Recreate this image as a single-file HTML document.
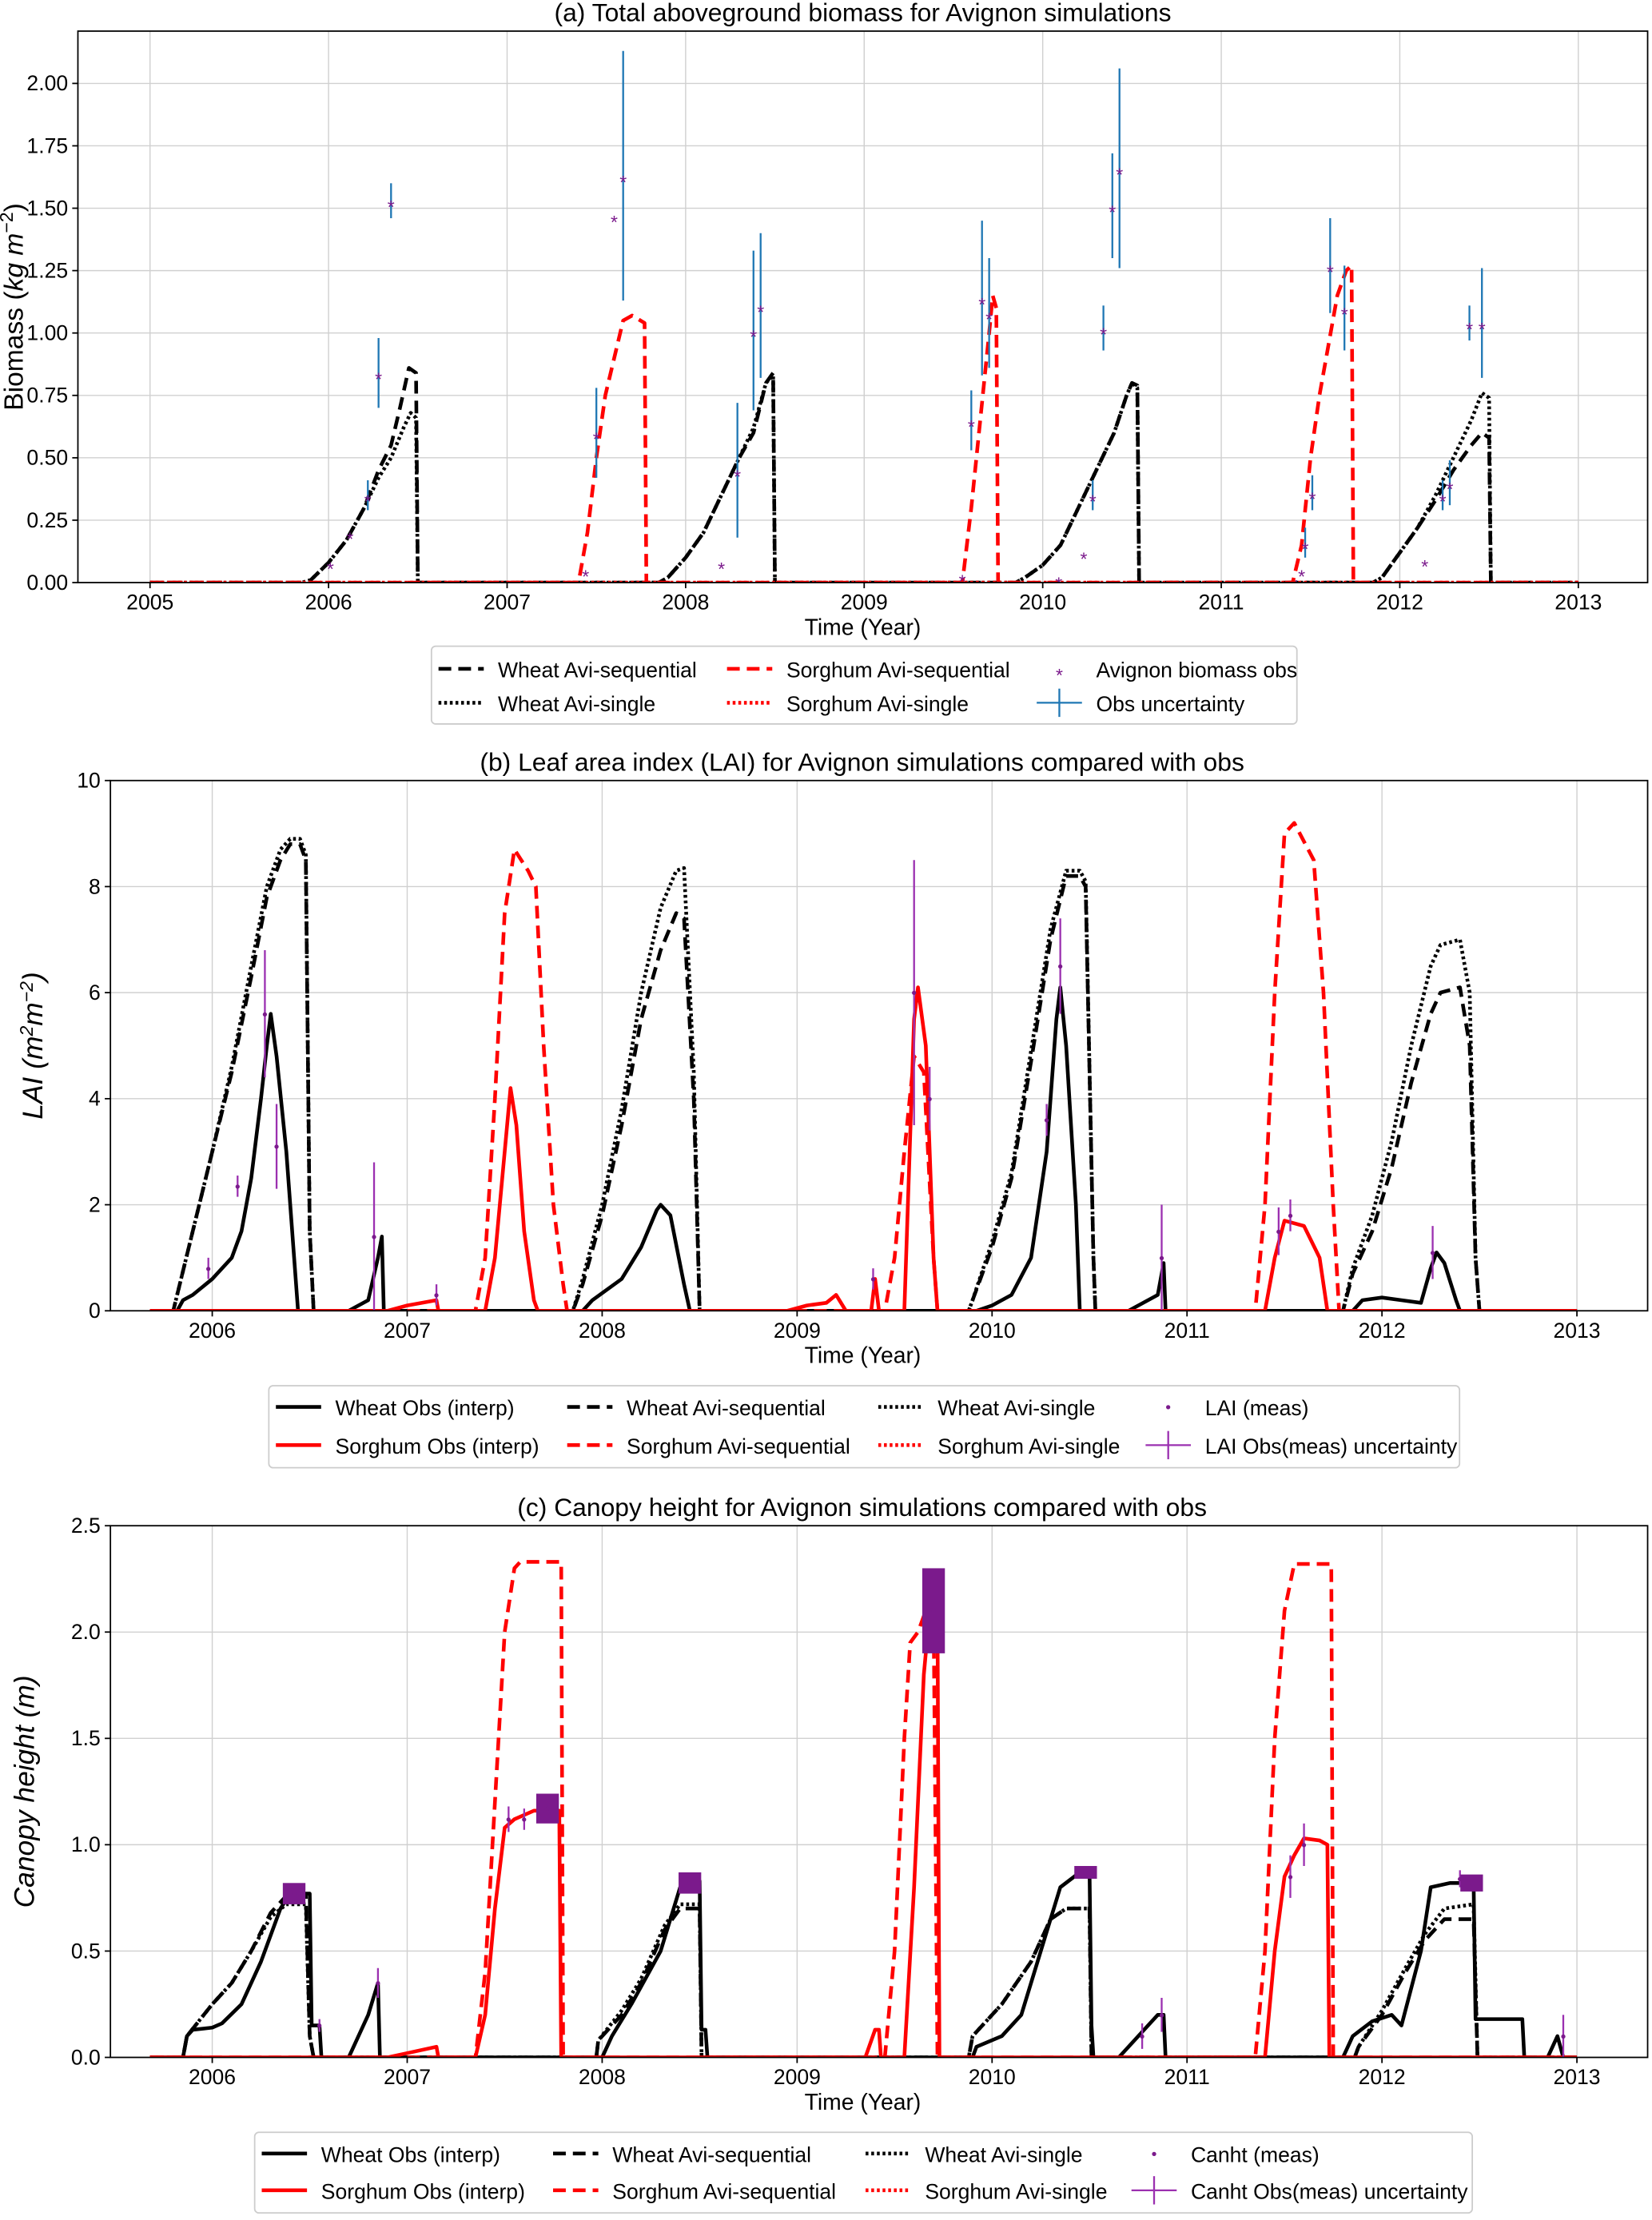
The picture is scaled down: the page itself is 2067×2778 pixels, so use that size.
<!DOCTYPE html>
<html><head><meta charset="utf-8"><title>Avignon simulations</title>
<style>html,body{margin:0;padding:0;background:#fff}svg{display:block}text{font-family:"Liberation Sans","DejaVu Sans",sans-serif}</style>
</head><body>
<svg id="fig" xmlns="http://www.w3.org/2000/svg" width="2067" height="2778" viewBox="0 0 1168 1570"></svg>
<script>
// ===== Panel (a) data: biomass (kg m-2) =====
const aWheatSeq=[[2005,0],[2005.85,0],[2005.9,0.01],[2006,0.08],[2006.1,0.17],[2006.2,0.3],[2006.28,0.45],[2006.35,0.55],[2006.4,0.7],[2006.45,0.86],[2006.49,0.84],[2006.5,0],[2007.85,0],[2007.9,0.02],[2008,0.1],[2008.1,0.2],[2008.2,0.35],[2008.3,0.5],[2008.38,0.6],[2008.45,0.8],[2008.49,0.84],[2008.5,0],[2009.85,0],[2009.9,0.02],[2010,0.07],[2010.1,0.15],[2010.2,0.3],[2010.3,0.45],[2010.4,0.6],[2010.47,0.75],[2010.5,0.8],[2010.53,0.79],[2010.54,0],[2011.85,0],[2011.9,0.02],[2012,0.12],[2012.1,0.22],[2012.2,0.33],[2012.3,0.45],[2012.4,0.55],[2012.46,0.6],[2012.5,0.58],[2012.51,0],[2013,0]];
const aWheatSingle=[[2005,0],[2005.85,0],[2005.9,0.01],[2006,0.08],[2006.1,0.17],[2006.2,0.3],[2006.28,0.42],[2006.35,0.5],[2006.42,0.62],[2006.46,0.68],[2006.49,0.66],[2006.5,0],[2007.85,0],[2007.9,0.02],[2008,0.1],[2008.1,0.2],[2008.2,0.35],[2008.3,0.5],[2008.38,0.62],[2008.45,0.8],[2008.49,0.83],[2008.5,0],[2009.85,0],[2009.9,0.02],[2010,0.07],[2010.1,0.15],[2010.2,0.3],[2010.3,0.45],[2010.4,0.6],[2010.47,0.75],[2010.5,0.8],[2010.53,0.78],[2010.54,0],[2011.85,0],[2011.9,0.02],[2012,0.12],[2012.1,0.22],[2012.2,0.35],[2012.3,0.5],[2012.4,0.65],[2012.46,0.76],[2012.5,0.74],[2012.51,0],[2013,0]];
const aSorgSeq=[[2005,0],[2007.4,0],[2007.45,0.2],[2007.5,0.5],[2007.55,0.75],[2007.6,0.9],[2007.65,1.05],[2007.7,1.07],[2007.77,1.04],[2007.78,0],[2009.55,0],[2009.6,0.3],[2009.65,0.65],[2009.7,1.0],[2009.72,1.15],[2009.74,1.1],[2009.75,0],[2011.4,0],[2011.45,0.15],[2011.5,0.5],[2011.55,0.75],[2011.6,0.95],[2011.65,1.15],[2011.7,1.25],[2011.73,1.27],[2011.74,0],[2013,0]];
const aSorgSingle=[[2005,0],[2013,0]];
const aObsT=[2006.01,2006.12,2006.22,2006.28,2006.35,2007.44,2007.5,2007.6,2007.65,2008.2,2008.29,2008.38,2008.42,2009.55,2009.6,2009.66,2009.7,2010.09,2010.23,2010.28,2010.34,2010.39,2010.43,2011.42,2011.45,2011.47,2011.51,2011.61,2011.69,2012.14,2012.24,2012.28,2012.39,2012.46];
const aObsV=[0.08,0.2,0.35,0.84,1.53,0.05,0.6,1.47,1.63,0.08,0.45,1.01,1.11,0.03,0.65,1.14,1.08,0.02,0.12,0.35,1.02,1.51,1.66,0.01,0.05,0.16,0.36,1.27,1.1,0.09,0.35,0.4,1.04,1.04];
const aObsErr=[0,0,0.06,0.14,0.07,0,0.18,0,0.5,0,0.27,0.32,0.29,0,0.12,0.31,0.22,0,0,0.06,0.09,0.21,0.4,0,0,0.06,0.07,0.19,0.17,0,0.06,0.09,0.07,0.22];
const aYTicks=[0,0.25,0.5,0.75,1.0,1.25,1.5,1.75,2.0];
const aXTicks=[2005,2006,2007,2008,2009,2010,2011,2012,2013];

// ===== Panel (b) data: LAI =====
const bWheatObs=[[2005.68,0],[2005.82,0],[2005.85,0.2],[2005.9,0.3],[2006,0.6],[2006.1,1.0],[2006.15,1.5],[2006.2,2.5],[2006.25,4.0],[2006.28,5.0],[2006.3,5.6],[2006.33,4.8],[2006.38,3.0],[2006.42,1.0],[2006.44,0],[2006.7,0],[2006.8,0.2],[2006.85,1.0],[2006.87,1.4],[2006.88,0],[2007.9,0],[2007.95,0.2],[2008.1,0.6],[2008.2,1.2],[2008.28,1.9],[2008.3,2.0],[2008.35,1.8],[2008.42,0.5],[2008.45,0],[2009.92,0],[2010,0.1],[2010.1,0.3],[2010.2,1.0],[2010.28,3.0],[2010.33,5.5],[2010.35,6.1],[2010.38,5.0],[2010.43,2.0],[2010.45,0],[2010.7,0],[2010.85,0.3],[2010.88,0.9],[2010.89,0],[2011.85,0],[2011.9,0.2],[2012,0.25],[2012.1,0.2],[2012.2,0.15],[2012.25,0.8],[2012.28,1.1],[2012.32,0.9],[2012.38,0.2],[2012.4,0],[2013,0]];
const bWheatSeq=[[2005.68,0],[2005.8,0],[2005.82,0.3],[2005.9,1.5],[2006,3.0],[2006.1,4.5],[2006.2,6.3],[2006.28,7.8],[2006.35,8.5],[2006.4,8.8],[2006.45,8.8],[2006.48,8.5],[2006.5,1.5],[2006.52,0],[2007.85,0],[2007.9,0.5],[2008,1.8],[2008.1,3.5],[2008.2,5.5],[2008.3,6.8],[2008.38,7.5],[2008.42,7.4],[2008.47,4.0],[2008.5,0],[2009.88,0],[2009.9,0.2],[2010,1.2],[2010.1,2.5],[2010.2,4.7],[2010.3,7.0],[2010.38,8.2],[2010.45,8.2],[2010.48,8.0],[2010.52,1.0],[2010.53,0],[2011.8,0],[2011.85,0.7],[2011.95,1.5],[2012.05,2.7],[2012.15,4.3],[2012.25,5.6],[2012.3,6.0],[2012.4,6.1],[2012.45,5.0],[2012.48,1.0],[2012.5,0],[2013,0]];
const bWheatSingle=[[2005.68,0],[2005.8,0],[2005.82,0.3],[2005.9,1.5],[2006,3.0],[2006.1,4.6],[2006.2,6.5],[2006.28,8.0],[2006.35,8.7],[2006.4,8.9],[2006.45,8.9],[2006.48,8.6],[2006.5,1.5],[2006.52,0],[2007.85,0],[2007.9,0.6],[2008,2.0],[2008.1,3.8],[2008.2,6.0],[2008.3,7.6],[2008.38,8.3],[2008.42,8.35],[2008.47,4.5],[2008.5,0],[2009.88,0],[2009.9,0.2],[2010,1.3],[2010.1,2.6],[2010.2,4.9],[2010.3,7.2],[2010.38,8.3],[2010.45,8.3],[2010.48,8.1],[2010.52,1.0],[2010.53,0],[2011.8,0],[2011.85,0.8],[2011.95,1.8],[2012.05,3.2],[2012.15,5.0],[2012.25,6.5],[2012.3,6.9],[2012.4,7.0],[2012.45,6.0],[2012.48,1.0],[2012.5,0],[2013,0]];
const bSorgObs=[[2005.68,0],[2006.9,0],[2007,0.1],[2007.15,0.2],[2007.16,0],[2007.4,0],[2007.45,1.0],[2007.5,3.0],[2007.53,4.2],[2007.56,3.5],[2007.6,1.5],[2007.65,0.2],[2007.67,0],[2008.95,0],[2009.05,0.1],[2009.15,0.15],[2009.2,0.3],[2009.25,0],[2009.38,0],[2009.4,0.6],[2009.42,0],[2009.55,0],[2009.6,5.5],[2009.62,6.1],[2009.66,5.0],[2009.7,1.0],[2009.72,0],[2011.4,0],[2011.45,1.0],[2011.5,1.7],[2011.6,1.6],[2011.68,1.0],[2011.72,0],[2013,0]];
const bSorgSeq=[[2005.68,0],[2007.35,0],[2007.4,1.0],[2007.45,4.0],[2007.5,7.5],[2007.55,8.7],[2007.62,8.3],[2007.66,8.0],[2007.7,5.0],[2007.75,2.0],[2007.8,0.5],[2007.82,0],[2009.45,0],[2009.5,1.0],[2009.55,3.0],[2009.6,4.8],[2009.65,4.5],[2009.7,1.0],[2009.72,0],[2011.35,0],[2011.4,2.0],[2011.45,6.0],[2011.5,9.0],[2011.55,9.2],[2011.65,8.5],[2011.7,6.0],[2011.75,2.0],[2011.78,0],[2013,0]];
const bObsT=[2005.98,2006.13,2006.27,2006.33,2006.83,2007.15,2009.39,2009.6,2009.68,2010.28,2010.35,2010.87,2011.47,2011.53,2012.26];
const bObsV=[0.8,2.35,5.6,3.1,1.4,0.3,0.6,6.0,4.0,3.6,6.5,1.0,1.5,1.8,1.1];
const bObsErr=[0.2,0.2,1.2,0.8,1.4,0.2,0.2,2.5,0.6,0.3,0.9,1.0,0.45,0.3,0.5];
const bYTicks=[0,2,4,6,8,10];
const bcXTicks=[2006,2007,2008,2009,2010,2011,2012,2013];

// ===== Panel (c) data: canopy height (m) =====
const cWheatObs=[[2005.68,0],[2005.85,0],[2005.87,0.1],[2005.9,0.13],[2006,0.14],[2006.05,0.16],[2006.15,0.25],[2006.25,0.45],[2006.35,0.7],[2006.4,0.77],[2006.5,0.77],[2006.51,0.15],[2006.55,0.15],[2006.56,0],[2006.7,0],[2006.8,0.2],[2006.85,0.35],[2006.86,0],[2008,0],[2008.05,0.1],[2008.15,0.25],[2008.3,0.5],[2008.4,0.8],[2008.48,0.83],[2008.5,0.83],[2008.51,0.13],[2008.53,0.13],[2008.54,0],[2009.9,0],[2009.92,0.05],[2010.05,0.1],[2010.15,0.2],[2010.25,0.5],[2010.35,0.8],[2010.45,0.87],[2010.5,0.87],[2010.51,0.15],[2010.52,0],[2010.65,0],[2010.75,0.1],[2010.85,0.2],[2010.88,0.2],[2010.89,0],[2011.8,0],[2011.85,0.1],[2011.95,0.17],[2012.05,0.2],[2012.1,0.15],[2012.2,0.5],[2012.25,0.8],[2012.35,0.82],[2012.47,0.82],[2012.48,0.18],[2012.72,0.18],[2012.73,0],[2012.85,0],[2012.9,0.1],[2012.93,0],[2013,0]];
const cWheatSeq=[[2005.68,0],[2005.85,0],[2005.87,0.1],[2006,0.25],[2006.1,0.35],[2006.2,0.5],[2006.3,0.68],[2006.38,0.76],[2006.48,0.76],[2006.5,0.1],[2006.52,0],[2007.97,0],[2007.98,0.08],[2008.1,0.2],[2008.2,0.35],[2008.32,0.6],[2008.4,0.7],[2008.5,0.7],[2008.51,0],[2009.88,0],[2009.9,0.1],[2010.05,0.25],[2010.2,0.45],[2010.3,0.65],[2010.38,0.7],[2010.5,0.7],[2010.51,0],[2011.86,0],[2011.88,0.05],[2012,0.2],[2012.12,0.4],[2012.22,0.55],[2012.32,0.65],[2012.47,0.65],[2012.49,0],[2013,0]];
const cWheatSingle=[[2005.68,0],[2005.85,0],[2005.87,0.1],[2006,0.25],[2006.1,0.35],[2006.2,0.5],[2006.3,0.66],[2006.38,0.72],[2006.48,0.72],[2006.5,0.1],[2006.52,0],[2007.97,0],[2007.98,0.08],[2008.1,0.22],[2008.2,0.37],[2008.32,0.62],[2008.4,0.72],[2008.5,0.72],[2008.51,0],[2009.88,0],[2009.9,0.1],[2010.05,0.25],[2010.2,0.45],[2010.3,0.65],[2010.38,0.7],[2010.5,0.7],[2010.51,0],[2011.86,0],[2011.88,0.05],[2012,0.22],[2012.12,0.42],[2012.22,0.58],[2012.32,0.7],[2012.47,0.72],[2012.49,0],[2013,0]];
const cSorgObs=[[2005.68,0],[2006.9,0],[2007,0.02],[2007.15,0.05],[2007.16,0],[2007.35,0],[2007.4,0.2],[2007.45,0.7],[2007.5,1.08],[2007.55,1.12],[2007.65,1.16],[2007.78,1.16],[2007.79,0],[2009.35,0],[2009.4,0.13],[2009.42,0.13],[2009.43,0],[2009.55,0],[2009.6,0.8],[2009.65,1.8],[2009.68,2.1],[2009.72,2.1],[2009.73,0],[2011.4,0],[2011.45,0.5],[2011.5,0.85],[2011.55,0.95],[2011.6,1.03],[2011.68,1.02],[2011.72,1.0],[2011.73,0],[2013,0]];
const cSorgSeq=[[2005.68,0],[2007.35,0],[2007.4,0.4],[2007.45,1.2],[2007.5,2.0],[2007.55,2.3],[2007.58,2.33],[2007.79,2.33],[2007.8,0],[2009.45,0],[2009.5,0.5],[2009.55,1.5],[2009.58,1.95],[2009.62,2.0],[2009.66,2.1],[2009.7,2.1],[2009.72,0],[2011.35,0],[2011.4,0.5],[2011.45,1.5],[2011.5,2.1],[2011.55,2.32],[2011.74,2.32],[2011.75,0],[2013,0]];
const cObsT=[2006.42,2006.55,2006.85,2007.52,2007.6,2007.72,2008.45,2009.7,2010.48,2010.77,2010.87,2011.53,2011.6,2012.4,2012.46,2012.93];
const cObsV=[0.77,0.15,0.35,1.12,1.12,1.17,0.82,2.1,0.87,0.1,0.2,0.85,1.0,0.84,0.82,0.1];
const cObsErr=[0.05,0.03,0.07,0.06,0.05,0.07,0.05,0.2,0.03,0.06,0.08,0.1,0.1,0.04,0.04,0.1];
const cThick=[1,0,0,0,0,1,1,1,1,0,0,0,0,0,1,0];
const cYTicks=[0,0.5,1.0,1.5,2.0,2.5];

const NS='http://www.w3.org/2000/svg';
const svg=document.getElementById('fig');
function mk(tag,attrs,parent){const e=document.createElementNS(NS,tag);for(const k in attrs)e.setAttribute(k,attrs[k]);(parent||svg).appendChild(e);return e;}
function txt(s,attrs,parent){const e=mk('text',attrs,parent);e.textContent=s;return e;}

function panel(cfg){
  const g=mk('g',{});
  
  
  const sx=t=>cfg.x0+(t-cfg.t0)*(cfg.x1-cfg.x0)/(cfg.t1-cfg.t0);
  const sy=v=>cfg.y0-(v-cfg.v0)*(cfg.y0-cfg.y1)/(cfg.v1-cfg.v0);
  cfg.xt.forEach(t=>{const l=mk('line',{x1:sx(t),x2:sx(t),y1:cfg.top,y2:cfg.bot,stroke:'#d0d0d0','stroke-width':0.8},g);});
  cfg.yt.forEach(v=>{const l=mk('line',{x1:cfg.left,x2:cfg.right,y1:sy(v),y2:sy(v),stroke:'#d0d0d0','stroke-width':0.8},g);});
  cfg.xt.forEach(t=>{mk('line',{x1:sx(t),x2:sx(t),y1:cfg.bot,y2:cfg.bot+4,stroke:'#000'},g);const e=txt(String(t),{x:sx(t),y:cfg.bot+19,'font-size':15,'text-anchor':'middle'},g);});
  cfg.yt.forEach(v=>{mk('line',{x1:cfg.left-4,x2:cfg.left,y1:sy(v),y2:sy(v),stroke:'#000'},g);const e=txt(v.toFixed(cfg.dec),{x:cfg.left-7,y:sy(v)+5,'font-size':15,'text-anchor':'end'},g);});
  const clip='clip'+cfg.name;
  const cp=mk('clipPath',{id:clip},g);mk('rect',{x:cfg.left,y:cfg.top,width:cfg.right-cfg.left,height:cfg.bot-cfg.top},cp);
  const sg=mk('g',{'clip-path':`url(#${clip})`},g);
  cfg.series.forEach(s=>{
    const d=s.data.map((p,i)=>(i?'L':'M')+sx(p[0]).toFixed(2)+' '+sy(p[1]).toFixed(2)).join('');
    const p=mk('path',{d,fill:'none',stroke:s.color,'stroke-width':s.w||2.6,'stroke-dasharray':s.dash||'none','stroke-linejoin':'round'},sg);
    
    
  });
  cfg.obs.T.forEach((t,i)=>{
    const v=cfg.obs.V[i],er=cfg.obs.E[i];
    const og=mk('g',{},sg);
    
    
    if(cfg.obs.thick&&cfg.obs.thick[i]){
      mk('rect',{x:sx(t)-(cfg.obs.bw/2),y:sy(v+er),width:cfg.obs.bw,height:Math.max(sy(v-er)-sy(v+er),6),fill:'#7b1a8c'},og);
    } else if(er>0){
      mk('line',{x1:sx(t),x2:sx(t),y1:sy(v-er),y2:sy(v+er),stroke:cfg.obs.ecol,'stroke-width':1.3},og);
    }
    txt(cfg.obs.mark,{x:sx(t),y:sy(v)+cfg.obs.dy,'font-size':cfg.obs.ms,'text-anchor':'middle',fill:'#7b1a8c'},og);
  });
  mk('rect',{x:cfg.left,y:cfg.top,width:cfg.right-cfg.left,height:cfg.bot-cfg.top,fill:'none',stroke:'#000','stroke-width':1},g);
  const ti=txt(cfg.title,{x:(cfg.left+cfg.right)/2+(cfg.tdx||0),y:cfg.top-7,'font-size':18,'text-anchor':'middle'},g);
  
  const xl=txt('Time (Year)',{x:610,y:cfg.bot+37,'font-size':16,'text-anchor':'middle'},g);
  
  const yl=mk('text',{x:0,y:0,'font-size':cfg.ylfs||18,'text-anchor':'middle',transform:`translate(${cfg.ylx},${(cfg.top+cfg.bot)/2}) rotate(-90)`,'font-style':cfg.ylItalic?'italic':'normal'},g);
  yl.innerHTML=cfg.ylabel;
  
  return g;
}

panel({name:'panel-a-biomass',left:55,right:1165,top:22,bot:412,x0:106,x1:1116,t0:2005,t1:2013,y0:412,y1:59,v0:0,v1:2,
  xt:aXTicks,yt:aYTicks,dec:2,title:'(a) Total aboveground biomass for Avignon simulations',ylx:16,ylfs:19,
  ylabel:'Biomass (<tspan font-style="italic">kg m</tspan><tspan font-size="13" dy="-7">−2</tspan><tspan dy="7">)</tspan>',
  series:[{id:'wheat-avi-single',data:aWheatSingle,color:'#000',dash:'2 2'},{id:'wheat-avi-sequential',data:aWheatSeq,color:'#000',dash:'9 5'},{id:'sorghum-avi-single',data:aSorgSingle,color:'#f00',dash:'2 2'},{id:'sorghum-avi-sequential',data:aSorgSeq,color:'#f00',dash:'9 5'}],
  obs:{T:aObsT,V:aObsV,E:aObsErr,mark:'*',ms:13,dy:9,ecol:'#1f77b4'}});

panel({name:'panel-b-lai',left:78,right:1165,top:552,bot:927,x0:150,x1:1115,t0:2006,t1:2013,y0:927,y1:552,v0:0,v1:10,
  xt:bcXTicks,yt:bYTicks,dec:0,title:'(b) Leaf area index (LAI) for Avignon simulations compared with obs',tdx:-12,ylx:30,ylItalic:true,ylfs:20,
  ylabel:'LAI (m<tspan font-size="13" dy="-7">2</tspan><tspan dy="7">m</tspan><tspan font-size="13" dy="-7">−2</tspan><tspan dy="7">)</tspan>',
  series:[{id:'wheat-avi-single',data:bWheatSingle,color:'#000',dash:'2 2'},{id:'wheat-avi-sequential',data:bWheatSeq,color:'#000',dash:'9 5'},{id:'wheat-obs-interp',data:bWheatObs,color:'#000'},{id:'sorghum-avi-sequential',data:bSorgSeq,color:'#f00',dash:'9 5'},{id:'sorghum-obs-interp',data:bSorgObs,color:'#f00'}],
  obs:{T:bObsT,V:bObsV,E:bObsErr,mark:'•',ms:11,dy:4,ecol:'#9b30b0'}});

panel({name:'panel-c-canopy-height',left:78,right:1165,top:1079,bot:1455,x0:150,x1:1115,t0:2006,t1:2013,y0:1455,y1:1079,v0:0,v1:2.5,
  xt:bcXTicks,yt:cYTicks,dec:1,title:'(c) Canopy height for Avignon simulations compared with obs',tdx:-12,ylx:24,ylItalic:true,ylfs:20,
  ylabel:'Canopy height (m)',
  series:[{id:'wheat-avi-single',data:cWheatSingle,color:'#000',dash:'2 2'},{id:'wheat-avi-sequential',data:cWheatSeq,color:'#000',dash:'9 5'},{id:'wheat-obs-interp',data:cWheatObs,color:'#000'},{id:'sorghum-avi-sequential',data:cSorgSeq,color:'#f00',dash:'9 5'},{id:'sorghum-obs-interp',data:cSorgObs,color:'#f00'}],
  obs:{T:cObsT,V:cObsV,E:cObsErr,thick:cThick,bw:16,mark:'•',ms:11,dy:4,ecol:'#9b30b0'}});

function legend(name,x,y,w,h,items){
  const g=mk('g',{});
  
  
  mk('rect',{x,y,width:w,height:h,rx:3,fill:'#fff',stroke:'#ccc','stroke-width':1},g);
  items.forEach(it=>{
    const eg=mk('g',{},g);
    
    
    const lx=it.x,ly=it.y;
    if(it.type==='line') mk('line',{x1:lx,x2:lx+32,y1:ly,y2:ly,stroke:it.color,'stroke-width':2.6,'stroke-dasharray':it.dash||'none'},eg);
    else if(it.type==='star') txt('*',{x:lx+16,y:ly+9,'font-size':13,'text-anchor':'middle',fill:'#7b1a8c'},eg);
    else if(it.type==='dot') txt('•',{x:lx+16,y:ly+4,'font-size':11,'text-anchor':'middle',fill:'#7b1a8c'},eg);
    else if(it.type==='err'){mk('line',{x1:lx,x2:lx+32,y1:ly,y2:ly,stroke:it.color,'stroke-width':1.3},eg);mk('line',{x1:lx+16,x2:lx+16,y1:ly-10,y2:ly+10,stroke:it.color,'stroke-width':1.3},eg);}
    txt(it.label,{x:lx+42,y:ly+6,'font-size':15},eg);
  });
}
legend('legend-a',305,457,612,55,[
  {type:'line',x:310,y:473,color:'#000',dash:'9 5',label:'Wheat Avi-sequential'},
  {type:'line',x:310,y:497,color:'#000',dash:'2 2',label:'Wheat Avi-single'},
  {type:'line',x:514,y:473,color:'#f00',dash:'9 5',label:'Sorghum Avi-sequential'},
  {type:'line',x:514,y:497,color:'#f00',dash:'2 2',label:'Sorghum Avi-single'},
  {type:'star',x:733,y:473,label:'Avignon biomass obs'},
  {type:'err',x:733,y:497,color:'#1f77b4',label:'Obs uncertainty'}]);
legend('legend-b',190,980,842,58,[
  {type:'line',x:195,y:995,color:'#000',label:'Wheat Obs (interp)'},
  {type:'line',x:195,y:1022,color:'#f00',label:'Sorghum Obs (interp)'},
  {type:'line',x:401,y:995,color:'#000',dash:'9 5',label:'Wheat Avi-sequential'},
  {type:'line',x:401,y:1022,color:'#f00',dash:'9 5',label:'Sorghum Avi-sequential'},
  {type:'line',x:621,y:995,color:'#000',dash:'2 2',label:'Wheat Avi-single'},
  {type:'line',x:621,y:1022,color:'#f00',dash:'2 2',label:'Sorghum Avi-single'},
  {type:'dot',x:810,y:995,label:'LAI (meas)'},
  {type:'err',x:810,y:1022,color:'#9b30b0',label:'LAI Obs(meas) uncertainty'}]);
legend('legend-c',180,1508,861,57,[
  {type:'line',x:185,y:1523,color:'#000',label:'Wheat Obs (interp)'},
  {type:'line',x:185,y:1549,color:'#f00',label:'Sorghum Obs (interp)'},
  {type:'line',x:391,y:1523,color:'#000',dash:'9 5',label:'Wheat Avi-sequential'},
  {type:'line',x:391,y:1549,color:'#f00',dash:'9 5',label:'Sorghum Avi-sequential'},
  {type:'line',x:612,y:1523,color:'#000',dash:'2 2',label:'Wheat Avi-single'},
  {type:'line',x:612,y:1549,color:'#f00',dash:'2 2',label:'Sorghum Avi-single'},
  {type:'dot',x:800,y:1523,label:'Canht (meas)'},
  {type:'err',x:800,y:1549,color:'#9b30b0',label:'Canht Obs(meas) uncertainty'}]);
</script>
</body></html>
